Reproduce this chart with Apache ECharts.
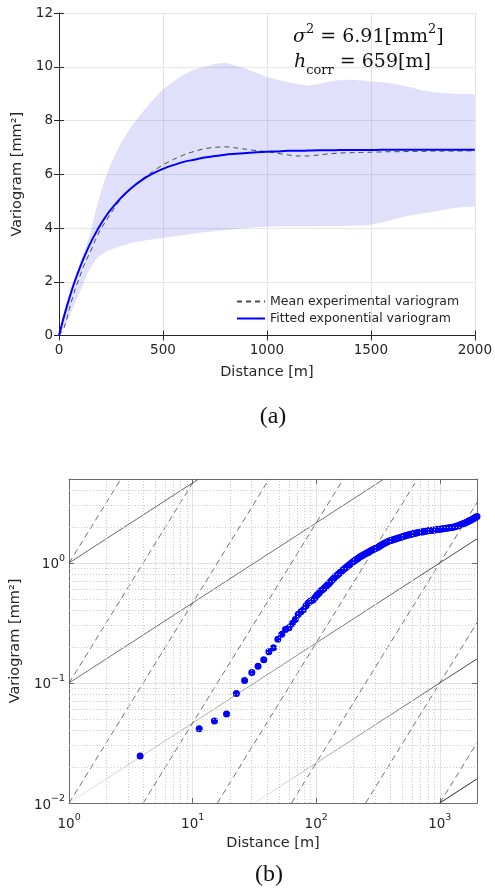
<!DOCTYPE html>
<html><head><meta charset="utf-8">
<script src="https://cdn.jsdelivr.net/npm/echarts@6/dist/echarts.min.js"></script>
<style>html,body{margin:0;padding:0;background:#fff}#c{width:495px;height:891px}</style>
</head><body><div id="c"></div>
<script>
// ---------- (a) linear variogram ----------
const distTop = [0,25,50,75,100,125,150,175,200,225,250,300,350,400,450,500,550,600,650,700,750,800,850,900,950,1000,1050,1100,1150,1200,1250,1300,1350,1400,1450,1500,1550,1600,1650,1700,1750,1800,1850,1900,1950,2000];
const bandLow = [0,0.3,0.7,1.15,1.6,2.1,2.5,2.8,3.0,3.12,3.2,3.33,3.45,3.52,3.58,3.63,3.68,3.74,3.8,3.84,3.88,3.92,3.96,4.0,4.03,4.05,4.06,4.06,4.06,4.06,4.07,4.07,4.07,4.08,4.09,4.12,4.2,4.3,4.4,4.48,4.55,4.6,4.68,4.74,4.78,4.8];
const bandHigh = [0,0.8,1.5,2.1,2.7,3.2,3.8,4.6,5.3,5.9,6.4,7.2,7.8,8.3,8.75,9.15,9.45,9.7,9.9,10.0,10.1,10.15,10.05,9.92,9.78,9.62,9.52,9.42,9.36,9.3,9.36,9.45,9.5,9.52,9.5,9.46,9.42,9.38,9.3,9.22,9.12,9.05,9.02,9.0,8.99,8.98];
const meanExp = [0,0.3,1.0,1.65,2.2,2.7,3.1,3.55,3.95,4.25,4.55,5.1,5.5,5.82,6.1,6.35,6.55,6.72,6.85,6.95,7.0,7.02,6.98,6.93,6.88,6.84,6.78,6.72,6.68,6.68,6.72,6.76,6.79,6.8,6.81,6.82,6.83,6.84,6.84,6.85,6.85,6.86,6.86,6.86,6.87,6.87];
const fitted = [0,0.74,1.40,2.00,2.52,2.99,3.42,3.79,4.13,4.43,4.69,5.14,5.50,5.79,6.02,6.20,6.34,6.46,6.54,6.62,6.68,6.73,6.76,6.79,6.82,6.84,6.85,6.87,6.87,6.88,6.89,6.89,6.90,6.90,6.90,6.90,6.91,6.91,6.91,6.91,6.91,6.91,6.91,6.91,6.91,6.91];

// ---------- (b) log-log experimental variogram ----------
const lagDist = [3.76,11.3,15.0,18.8,22.6,26.3,30.1,33.8,37.6,41.4,45.1,48.9,52.6,56.4,60.2,63.9,67.7,71.4,75.2,79.0,82.7,86.5,90.2,94.0,97.8,101.5,105.3,109.0,113,116.3,119.7,123.2,126.8,130.5,134.3,138.3,142.3,146.5,150.7,155.1,159.6,164.3,169.1,174.0,179.1,184.3,189.7,195.3,201,206.9,212.9,219.1,225.5,232.1,238.9,245.9,253,260.4,268,275.9,284,292.3,301,309.7,318.7,328,337.6,347.5,357.6,368,378.8,389.9,401.3,413,425,437.4,450,463.3,477,491,505,520,535,551,567,583,600,618,636,655,674,694,714,735,756,778,801,824,848,873,899,925,952,980,1008,1038,1068,1099,1131,1164,1198,1233,1269,1306,1345,1384,1424,1466,1509,1553,1598,1645,1693,1742,1793,1846,1900,1950,2000];
const lagGamma = [0.0246,0.0415,0.0483,0.0552,0.0815,0.105,0.122,0.138,0.156,0.182,0.196,0.231,0.255,0.279,0.288,0.313,0.338,0.372,0.392,0.41,0.44,0.465,0.482,0.492,0.515,0.54,0.56,0.585,0.60,0.617,0.635,0.654,0.674,0.697,0.72,0.742,0.765,0.785,0.805,0.828,0.85,0.872,0.895,0.917,0.94,0.962,0.985,1.008,1.03,1.052,1.075,1.098,1.12,1.14,1.16,1.18,1.20,1.22,1.24,1.26,1.28,1.30,1.32,1.34,1.36,1.385,1.41,1.435,1.46,1.48,1.50,1.52,1.54,1.555,1.57,1.585,1.60,1.615,1.63,1.645,1.66,1.675,1.69,1.705,1.72,1.733,1.745,1.758,1.77,1.78,1.79,1.80,1.81,1.82,1.83,1.84,1.85,1.858,1.865,1.872,1.88,1.888,1.895,1.903,1.91,1.918,1.925,1.933,1.94,1.95,1.96,1.97,1.98,1.995,2.01,2.03,2.05,2.075,2.10,2.125,2.15,2.18,2.21,2.245,2.28,2.32,2.36,2.40,2.44];

// reference power-law guide lines  y = C * x^p
const solidC = [1,0.1,0.01,0.001,0.0001];
const dashedC = [1,0.1,0.01,0.001,1e-4,1e-5,1e-6,1e-7];
const solidSlope = 2/3, dashedSlope = 5/3;
const logXMin = 1, logXMax = 2000, logYMin = 0.01, logYMax = 5;
const minorX = [2,3,4,5,6,7,8,9,20,30,40,50,60,70,80,90,200,300,400,500,600,700,800,900];
const minorY = [0.02,0.03,0.04,0.05,0.06,0.07,0.08,0.09,0.2,0.3,0.4,0.5,0.6,0.7,0.8,0.9,2,3,4];

const zip = (a,b) => a.map((v,i)=>[v,b[i]]);
const FONT = 'DejaVu Sans';
const TXT = '#262626';

function refLine(C, p){
  const x0 = Math.max(logXMin, Math.pow(logYMin/C, 1/p));
  const x1 = Math.min(logXMax, Math.pow(logYMax/C, 1/p));
  return [[x0, C*Math.pow(x0,p)],[x1, C*Math.pow(x1,p)]];
}
function powLabel(v){
  const e = Math.log10(v), r = Math.round(e);
  if (Math.abs(e-r) > 1e-6) return '';
  return '{b|10}{s|' + (r<0 ? '\u2212'+(-r) : r) + '}';
}
const powRich = {
  b:{fontSize:13.5, lineHeight:18, verticalAlign:'bottom', color:TXT, fontFamily:FONT},
  s:{fontSize:9.5, lineHeight:9, verticalAlign:'top', color:TXT, fontFamily:FONT}
};

const grad = () => new echarts.graphic.LinearGradient(0,0,1,0,[{offset:0,color:'#e6e6e6'},{offset:1,color:'#2a2a2a'}]);
const solidColors = ['#555555','#606060', grad(), grad(), '#111111'];

const series = [];
// spread band (between lower and upper envelope) through the axis scales
series.push({type:'custom', xAxisIndex:0, yAxisIndex:0, silent:true, z:1, data:zip(distTop,bandHigh),
  renderItem:(params, api)=>{
    if (params.dataIndex !== 0) return null;
    const up = distTop.map((d,i)=>api.coord([d, bandHigh[i]]));
    const lo = distTop.map((d,i)=>api.coord([d, bandLow[i]])).reverse();
    return {type:'polygon', shape:{points:up.concat(lo)}, style:{fill:'rgba(17,17,224,0.13)', stroke:null}};
  }});
series.push({name:'Mean experimental variogram', type:'line', xAxisIndex:0, yAxisIndex:0, data:zip(distTop,meanExp), symbol:'none', smooth:0.3,
  lineStyle:{color:'#4a4a4a', width:1, type:[5,4]}, itemStyle:{color:'#4a4a4a'}, z:2});
series.push({name:'Fitted exponential variogram', type:'line', xAxisIndex:0, yAxisIndex:0, data:zip(distTop,fitted), symbol:'none', smooth:0.3,
  lineStyle:{color:'#0000ff', width:2}, itemStyle:{color:'#0000ff'}, z:3});

// minor grid lines of the log plot
series.push({type:'line', xAxisIndex:2, yAxisIndex:2, data:[[logXMin,logYMin]], symbol:'none', silent:true, lineStyle:{opacity:0}, z:1,
  markLine:{silent:true, symbol:['none','none'], label:{show:false}, animation:false,
    lineStyle:{type:[1,2], color:'#c8c8c8', width:1},
    data: minorX.map(v=>({xAxis:v})).concat(minorY.map(v=>({yAxis:v})))}});
solidC.forEach((C,i)=>{
  series.push({type:'line', xAxisIndex:2, yAxisIndex:2, data:refLine(C,solidSlope), symbol:'none', silent:true, clip:true,
    lineStyle:{color:solidColors[i], width:0.9}, z:2});
});
dashedC.forEach(C=>{
  series.push({type:'line', xAxisIndex:2, yAxisIndex:2, data:refLine(C,dashedSlope), symbol:'none', silent:true, clip:true,
    lineStyle:{color:'#4d4d4d', width:0.8, type:[6,4]}, z:2});
});
series.push({type:'scatter', xAxisIndex:2, yAxisIndex:2, data:zip(lagDist,lagGamma), symbol:'circle', symbolSize:7,
  itemStyle:{color:'#0000ff', opacity:1}, z:4});

const blk = '#262626', gry = '#6a6a6a';
const option = {
  animation:false,
  backgroundColor:'#fff',
  grid:[{left:59, top:13, width:418, height:322.5, show:false},
        {left:63, top:479, width:414, height:324, show:false}],
  xAxis:[
    {gridIndex:0, type:'value', min:0, max:2000, interval:500, position:'bottom',
     axisLine:{lineStyle:{color:blk}}, axisTick:{inside:true, length:5, lineStyle:{color:blk}},
     axisLabel:{fontSize:13.5, color:TXT, fontFamily:FONT, margin:8, formatter:v=>String(v)},
     splitLine:{show:true, lineStyle:{color:'#e6e6e6'}},
     name:'Distance [m]', nameLocation:'middle', nameGap:29, nameTextStyle:{fontSize:14.5, color:TXT, fontFamily:FONT}},
    {gridIndex:0, type:'value', min:0, max:2000, interval:500, position:'top',
     axisLine:{lineStyle:{color:blk}}, axisTick:{inside:true, length:5, lineStyle:{color:blk}},
     axisLabel:{show:false}, splitLine:{show:false}},
    {gridIndex:1, type:'log', logBase:10, min:logXMin, max:logXMax, position:'bottom',
     axisLine:{lineStyle:{color:gry}}, axisTick:{inside:true, length:5, lineStyle:{color:gry}},
     axisLabel:{formatter:powLabel, rich:powRich, margin:10, showMaxLabel:true},
     splitLine:{show:true, lineStyle:{color:'#e3e3e3'}},
     name:'Distance [m]', nameLocation:'middle', nameGap:33, nameTextStyle:{fontSize:14.5, color:TXT, fontFamily:FONT}},
    {gridIndex:1, type:'log', logBase:10, min:logXMin, max:logXMax, position:'top',
     axisLine:{lineStyle:{color:gry}}, axisTick:{inside:true, length:5, lineStyle:{color:gry}},
     axisLabel:{show:false}, splitLine:{show:false}}
  ],
  yAxis:[
    {gridIndex:0, type:'value', min:0, max:12, interval:2, position:'left',
     axisLine:{show:true, lineStyle:{color:blk}}, axisTick:{show:true, inside:true, length:5, lineStyle:{color:blk}},
     axisLabel:{fontSize:13.5, color:TXT, fontFamily:FONT, margin:6},
     splitLine:{show:true, lineStyle:{color:'#e6e6e6'}},
     name:'Variogram [mm\u00b2]', nameLocation:'middle', nameGap:30, nameTextStyle:{fontSize:14.5, color:TXT, fontFamily:FONT}},
    {gridIndex:0, type:'value', min:0, max:12, interval:2, position:'right',
     axisLine:{show:true, lineStyle:{color:blk}}, axisTick:{show:true, inside:true, length:5, lineStyle:{color:blk}},
     axisLabel:{show:false}, splitLine:{show:false}},
    {gridIndex:1, type:'log', logBase:10, min:logYMin, max:logYMax, position:'left',
     axisLine:{show:true, lineStyle:{color:gry}}, axisTick:{show:true, inside:true, length:5, lineStyle:{color:gry}},
     axisLabel:{formatter:powLabel, rich:powRich, margin:4},
     splitLine:{show:true, lineStyle:{color:'#e3e3e3'}},
     name:'Variogram [mm\u00b2]', nameLocation:'middle', nameGap:41, nameTextStyle:{fontSize:14.5, color:TXT, fontFamily:FONT}},
    {gridIndex:1, type:'log', logBase:10, min:logYMin, max:logYMax, position:'right',
     axisLine:{show:true, lineStyle:{color:gry}}, axisTick:{show:true, inside:true, length:5, lineStyle:{color:gry}},
     axisLabel:{show:false}, splitLine:{show:false}}
  ],
  legend:{data:['Mean experimental variogram','Fitted exponential variogram'], orient:'vertical',
    left:236, top:295, itemWidth:28, itemHeight:10, itemGap:4, padding:0,
    itemStyle:{opacity:0},
    textStyle:{fontSize:12.5, color:TXT, fontFamily:FONT}},
  graphic:[
    {type:'text', left:293, top:23, z:10, style:{
      text:'{i|\u03c3}{sup|2}{r| = 6.91[mm}{sup|2}{r|]}',
      rich:{i:{fontFamily:'DejaVu Serif', fontStyle:'italic', fontSize:19, lineHeight:24, verticalAlign:'bottom', fill:'#111'},
            r:{fontFamily:'DejaVu Serif', fontSize:19, lineHeight:24, verticalAlign:'bottom', fill:'#111'},
            sup:{fontFamily:'DejaVu Serif', fontSize:13, lineHeight:13, verticalAlign:'top', fill:'#111'}}}},
    {type:'text', left:294, top:53, z:10, style:{
      text:'{i|h}{sub|corr}{r| = 659[m]}',
      rich:{i:{fontFamily:'DejaVu Serif', fontStyle:'italic', fontSize:19, lineHeight:24, verticalAlign:'top', fill:'#111'},
            r:{fontFamily:'DejaVu Serif', fontSize:19, lineHeight:24, verticalAlign:'top', fill:'#111'},
            sub:{fontFamily:'DejaVu Serif', fontSize:13, lineHeight:14, verticalAlign:'bottom', fill:'#111'}}}},
    {type:'text', x:273, y:417, style:{text:'(a)', fontFamily:'Liberation Serif', fontSize:24, fill:'#111', align:'center', verticalAlign:'middle'}},
    {type:'text', x:269, y:875, style:{text:'(b)', fontFamily:'Liberation Serif', fontSize:24, fill:'#111', align:'center', verticalAlign:'middle'}}
  ],
  series: series
};
const chart = echarts.init(document.getElementById('c'), null, {renderer:'canvas'});
chart.setOption(option);
</script></body></html>
